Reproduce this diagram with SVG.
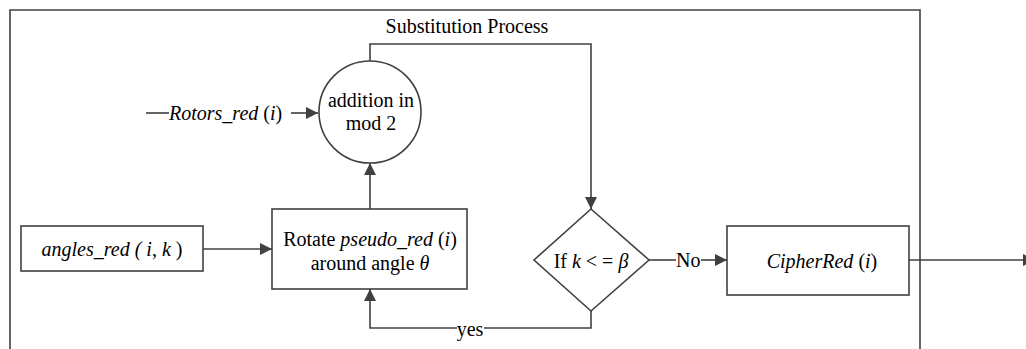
<svg xmlns="http://www.w3.org/2000/svg" width="1026" height="349" viewBox="0 0 1026 349">
<style>
.s{fill:none;stroke:#404040;stroke-width:1.6}
.n{fill:#fff;stroke:#404040;stroke-width:1.6}
text{font-family:'Liberation Serif','DejaVu Serif','Times New Roman',serif;font-size:20px;fill:#000}
.c{text-anchor:middle}
.i{font-style:italic}
</style>
<defs>
<marker id="b" viewBox="0 0 12 12" refX="12" refY="6" markerWidth="12" markerHeight="12" markerUnits="userSpaceOnUse" orient="auto">
<path d="M0,0 L12,6 L0,12 Z" fill="#404040"/>
</marker>
</defs>
<g id="frame">
<path class="s" d="M10,355 V10 H920 V355"/>
<text class="c" x="467" y="33" font-family="Liberation Serif, serif">Substitution Process</text>
</g>
<g id="connectors">
<path class="s" d="M146,113 H169"/>
<text x="169" y="120" font-family="Liberation Serif, serif"><tspan class="i">Rotors_red</tspan> (<tspan class="i">i</tspan>)</text>
<path class="s" d="M291,113 H318" marker-end="url(#b)"/>
<path class="s" d="M370,61 V44 H591 V209" marker-end="url(#b)"/>
<path class="s" d="M370,209 V163" marker-end="url(#b)"/>
<path class="s" d="M203,249 H272" marker-end="url(#b)"/>
<path class="s" d="M591,311 V328 H370 V289" marker-end="url(#b)"/>
<path d="M457,328 H484" stroke="#fff" stroke-width="4"/>
<text class="c" x="470" y="336" font-family="Liberation Serif, serif">yes</text>
<path class="s" d="M649,260 H676"/>
<text x="676" y="267" font-family="Liberation Serif, serif">No</text>
<path class="s" d="M701,260 H727" marker-end="url(#b)"/>
<path class="s" d="M909,260 H1035" marker-end="url(#b)"/>
</g>
<g id="addition">
<circle class="n" cx="370" cy="112" r="51"/>
<text class="c" x="371" y="107" font-family="Liberation Serif, serif">addition in</text>
<text class="c" x="371" y="130" font-family="Liberation Serif, serif">mod 2</text>
</g>
<g id="angles">
<rect class="n" x="21" y="226" width="182" height="45"/>
<text class="c" x="112" y="256" font-family="Liberation Serif, serif"><tspan class="i">angles_red ( i</tspan>, <tspan class="i">k</tspan> )</text>
</g>
<g id="rotate">
<rect class="n" x="272" y="209" width="195" height="80"/>
<text class="c" x="370" y="246" font-family="Liberation Serif, serif">Rotate <tspan class="i">pseudo_red</tspan> (<tspan class="i">i</tspan>)</text>
<text class="c" x="370" y="270" font-family="Liberation Serif, serif">around angle <tspan class="i">θ</tspan></text>
</g>
<g id="decision">
<path class="n" d="M591,209 L649,260 L591,311 L534,260 Z"/>
<text class="c" x="591" y="268" font-family="Liberation Serif, serif">If <tspan class="i">k</tspan> &lt; = <tspan class="i">β</tspan></text>
</g>
<g id="cipher">
<rect class="n" x="727" y="226" width="182" height="69"/>
<text class="c" x="822" y="268" font-family="Liberation Serif, serif"><tspan class="i">CipherRed</tspan> (<tspan class="i">i</tspan>)</text>
</g>
</svg>
